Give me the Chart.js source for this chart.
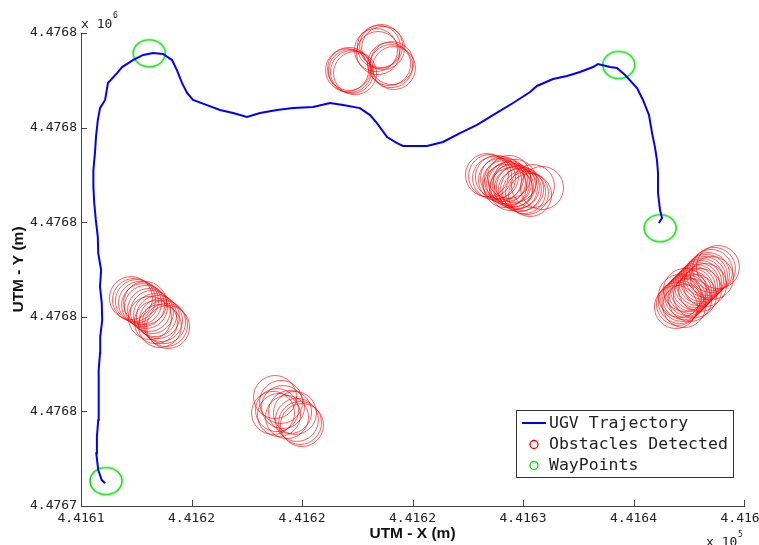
<!DOCTYPE html>
<html>
<head>
<meta charset="utf-8">
<title>UGV Trajectory</title>
<script src="https://cdn.jsdelivr.net/npm/chart.js@4.4.1/dist/chart.umd.min.js"></script>
<style>
    html, body { margin: 0; padding: 0; background: #fff; }
    #chartBox { width: 759px; height: 545px; }
</style>
</head>
<body>
<div id="chartBox"><canvas id="trajectoryChart" width="759" height="545"></canvas></div>
<script>
// UTM easting / northing (m)
const trajX = [
    441611.09, 441610.94, 441610.78, 441610.69, 441610.72, 441610.78, 441610.81, 441610.78, 441610.81, 441610.86,
    441610.87, 441610.96, 441610.94, 441610.86, 441610.91, 441610.78, 441610.76, 441610.67, 441610.60, 441610.56,
    441610.56, 441610.63, 441610.68, 441610.76, 441610.86, 441611.09, 441611.22, 441611.63, 441611.86, 441612.35,
    441612.81, 441613.26, 441613.71, 441614.12, 441614.34, 441614.57, 441614.80, 441615.07, 441615.70, 441616.29,
    441616.88, 441617.51, 441618.10, 441618.87, 441619.59, 441620.50, 441621.27, 441621.86, 441622.62, 441623.08,
    441623.39, 441623.85, 441624.30, 441624.57, 441625.66, 441626.38, 441627.15, 441627.92, 441628.64, 441629.55,
    441630.32, 441630.63, 441631.36, 441631.99, 441632.58, 441633.17, 441633.39, 441633.94, 441634.25, 441634.62,
    441635.16, 441635.43, 441635.70, 441635.84, 441635.97, 441636.06, 441636.11, 441636.11, 441636.20, 441636.29,
    441636.15
];
const trajY = [
    4476741.20, 4476741.37, 4476741.90, 4476742.79, 4476743.66, 4476744.55, 4476745.43, 4476746.31, 4476747.19, 4476748.07,
    4476748.95, 4476749.83, 4476750.71, 4476751.59, 4476752.47, 4476753.36, 4476754.23, 4476755.12, 4476756.00, 4476756.88,
    4476757.76, 4476758.64, 4476759.52, 4476760.40, 4476761.03, 4476761.46, 4476762.36, 4476762.88, 4476763.20, 4476763.57,
    4476763.84, 4476763.94, 4476763.89, 4476763.57, 4476763.04, 4476762.36, 4476761.83, 4476761.46, 4476761.19, 4476760.93,
    4476760.77, 4476760.56, 4476760.77, 4476760.93, 4476761.03, 4476761.09, 4476761.30, 4476761.19, 4476761.03, 4476760.66,
    4476760.24, 4476759.50, 4476759.18, 4476759.03, 4476759.03, 4476759.24, 4476759.71, 4476760.14, 4476760.66, 4476761.30,
    4476761.88, 4476762.20, 4476762.57, 4476762.73, 4476762.94, 4476763.20, 4476763.36, 4476763.20, 4476763.15, 4476762.78,
    4476762.09, 4476761.46, 4476760.66, 4476759.71, 4476758.97, 4476758.29, 4476757.60, 4476756.54, 4476755.64, 4476755.22,
    4476754.96
];

const obstacleX = [
    // top cluster
    441622.04, 441622.17, 441622.26, 441622.40, 441622.13, 441623.35, 441623.48, 441623.58, 441623.67, 441623.44,
    441623.94, 441624.03, 441624.16, 441624.07,
    // middle right cluster
    441628.37, 441628.51, 441628.69, 441628.82, 441628.96, 441629.05, 441629.14, 441629.23, 441629.32, 441629.41,
    441629.50, 441629.59, 441629.68, 441629.77, 441629.86, 441629.96, 441630.05, 441630.18, 441630.32, 441629.46,
    441629.19, 441630.45, 441630.86, 441629.64, 441629.37,
    // left cluster
    441612.26, 441612.40, 441612.53, 441612.67, 441612.81, 441612.94, 441613.08, 441613.21, 441613.35, 441613.48,
    441613.62, 441613.76, 441613.85, 441613.94, 441613.12, 441613.39, 441613.57, 441612.90,
    // bottom cluster
    441618.78, 441618.87, 441619.14, 441619.46, 441620.00, 441619.91, 441618.69, 441619.32, 441619.68, 441619.05,
    441619.77, 441618.96,
    // right cluster
    441636.92, 441637.01, 441637.10, 441637.20, 441637.29, 441637.38, 441637.47, 441637.56, 441637.65, 441637.74,
    441637.83, 441637.92, 441638.01, 441638.10, 441638.19, 441638.28, 441638.37, 441638.51, 441638.64, 441638.82,
    441637.56, 441637.78, 441638.01, 441637.33, 441638.24, 441638.55, 441637.10, 441637.29
];
const obstacleY = [
    4476763.04, 4476762.99, 4476762.94, 4476762.88, 4476763.10, 4476764.10, 4476764.26, 4476764.31, 4476764.21, 4476763.94,
    4476763.36, 4476763.25, 4476763.15, 4476763.41,
    4476757.49, 4476757.44, 4476757.33, 4476757.39, 4476757.23, 4476757.33, 4476757.12, 4476757.23, 4476757.02, 4476757.07,
    4476756.91, 4476756.96, 4476756.81, 4476756.86, 4476756.70, 4476756.75, 4476756.59, 4476756.54, 4476756.44, 4476756.75,
    4476756.91, 4476756.91, 4476756.81, 4476757.18, 4476757.39,
    4476750.99, 4476750.89, 4476750.83, 4476750.73, 4476750.62, 4476750.52, 4476750.36, 4476750.25, 4476750.09, 4476749.99,
    4476749.83, 4476749.72, 4476749.57, 4476749.46, 4476749.94, 4476749.72, 4476749.51, 4476750.73,
    4476745.76, 4476745.07, 4476745.23, 4476744.97, 4476744.28, 4476744.39, 4476744.92, 4476744.70, 4476744.92, 4476745.50,
    4476744.55, 4476744.81,
    4476750.52, 4476750.68, 4476750.78, 4476750.89, 4476750.99, 4476751.10, 4476751.20, 4476751.31, 4476751.42, 4476751.52,
    4476751.63, 4476751.73, 4476751.84, 4476751.94, 4476752.05, 4476752.16, 4476752.26, 4476752.42, 4476752.53, 4476752.63,
    4476750.89, 4476751.10, 4476751.42, 4476751.42, 4476751.68, 4476752.05, 4476751.10, 4476750.57
];

const waypointX = [441613.09, 441634.33, 441636.21, 441611.13];
const waypointY = [4476763.93, 4476763.31, 4476754.69, 4476741.32];

const xTickValues = [441610, 441615, 441620, 441625, 441630, 441635, 441640];
const xTickLabels = ['4.4161', '4.4162', '4.4162', '4.4162', '4.4163', '4.4164', '4.4164'];
const yTickValues = [4476740, 4476745, 4476750, 4476755, 4476760, 4476765];
const yTickLabels = ['4.4767', '4.4768', '4.4768', '4.4768', '4.4768', '4.4768'];

const seriesNames = ['UGV Trajectory', 'Obstacles Detected', 'WayPoints'];

const textColor = '#222';
const axisColor = '#444';
const monoFont = 'DejaVu Sans Mono';
const tickFont = { family: monoFont, size: 13 };
const titleFont = { family: 'Liberation Sans', size: 15.5, weight: 'bold' };

const toPoints = (xs, ys) => xs.map((x, i) => ({ x: x, y: ys[i] }));

function ellipseMarker(w, h, color, lineWidth) {
    const c = document.createElement('canvas');
    c.width = w + 4;
    c.height = h + 4;
    const g = c.getContext('2d');
    g.strokeStyle = color;
    g.lineWidth = lineWidth;
    g.beginPath();
    g.ellipse(c.width / 2, c.height / 2, w / 2, h / 2, 0, 0, Math.PI * 2);
    g.stroke();
    return c;
}

// inside tick marks, exponent notes and the boxed legend
const matlabDecor = {
    id: 'matlabDecor',
    afterDraw(chart) {
        const { ctx, chartArea: area, scales: { x, y } } = chart;
        ctx.save();
        ctx.strokeStyle = axisColor;
        ctx.lineWidth = 1;
        ctx.beginPath();
        x.ticks.forEach(t => {
            const px = Math.round(x.getPixelForValue(t.value)) + 0.5;
            ctx.moveTo(px, area.bottom);
            ctx.lineTo(px, area.bottom - 6);
        });
        y.ticks.forEach(t => {
            const py = Math.round(y.getPixelForValue(t.value)) + 0.5;
            ctx.moveTo(area.left, py);
            ctx.lineTo(area.left + 6, py);
        });
        ctx.stroke();

        ctx.fillStyle = textColor;
        ctx.textBaseline = 'alphabetic';
        ctx.textAlign = 'left';
        ctx.font = '13px "' + monoFont + '"';
        ctx.fillText('x 10', 81, 28);
        ctx.fillText('x 10', 706, 546);
        ctx.font = '8px "' + monoFont + '"';
        ctx.fillText('6', 113, 18);
        ctx.fillText('5', 738, 537);

        // legend
        const box = { left: 516, top: 410, width: 217, height: 67 };
        ctx.fillStyle = '#fff';
        ctx.fillRect(box.left, box.top, box.width, box.height);
        ctx.strokeStyle = '#333';
        ctx.strokeRect(box.left + 0.5, box.top + 0.5, box.width, box.height);

        const ds = chart.data.datasets;
        const rowY = [423, 444.5, 465.5];
        ctx.font = '16.5px "' + monoFont + '"';
        ctx.textBaseline = 'middle';
        ds.forEach((d, i) => {
            const cy = rowY[i];
            ctx.strokeStyle = d.legendColor;
            if (i === 0) {
                ctx.lineWidth = 2;
                ctx.beginPath();
                ctx.moveTo(522, cy);
                ctx.lineTo(546, cy);
                ctx.stroke();
            } else {
                ctx.lineWidth = 1.3;
                ctx.beginPath();
                ctx.arc(534, cy, 4, 0, Math.PI * 2);
                ctx.stroke();
            }
            ctx.fillStyle = textColor;
            ctx.fillText(d.label, 549, cy + 0.5);
        });
        ctx.restore();
    }
};

const waypointMarker = ellipseMarker(32, 27, 'rgb(0,230,0)', 1.6);

new Chart(document.getElementById('trajectoryChart'), {
    type: 'scatter',
    data: {
        datasets: [
            {
                label: seriesNames[0],
                data: toPoints(trajX, trajY),
                showLine: true,
                borderColor: 'rgb(0,0,255)',
                borderWidth: 2,
                pointRadius: 0,
                tension: 0,
                legendColor: 'rgb(0,0,255)',
                order: 0
            },
            {
                label: seriesNames[1],
                data: toPoints(obstacleX, obstacleY),
                pointStyle: 'circle',
                pointRadius: 21.5,
                pointBorderColor: 'rgba(255,0,0,0.8)',
                pointBackgroundColor: 'rgba(0,0,0,0)',
                pointBorderWidth: 0.8,
                legendColor: 'rgb(255,0,0)',
                clip: false,
                order: 2
            },
            {
                label: seriesNames[2],
                data: toPoints(waypointX, waypointY),
                pointStyle: waypointMarker,
                pointRadius: 16,
                legendColor: 'rgb(0,230,0)',
                clip: false,
                order: 1
            }
        ]
    },
    options: {
        responsive: false,
        animation: false,
        devicePixelRatio: 1,
        events: [],
        layout: { autoPadding: false, padding: { left: 0, right: 15, top: 33, bottom: 0 } },
        plugins: {
            legend: { display: false },
            tooltip: { enabled: false }
        },
        scales: {
            x: {
                type: 'linear',
                min: xTickValues[0],
                max: xTickValues[xTickValues.length - 1],
                afterBuildTicks: s => { s.ticks = xTickValues.map(v => ({ value: v })); },
                afterFit: s => { s.height = 39; s.paddingLeft = 0; s.paddingRight = 0; },
                grid: { display: false, drawTicks: false },
                border: { display: true, color: axisColor, width: 1 },
                ticks: {
                    callback: (v, i) => xTickLabels[i],
                    font: tickFont,
                    color: textColor,
                    padding: 5,
                    autoSkip: false,
                    maxRotation: 0
                },
                title: {
                    display: true,
                    text: 'UTM - X (m)',
                    font: titleFont,
                    color: '#111',
                    padding: { top: 0, bottom: 2 }
                }
            },
            y: {
                type: 'linear',
                min: yTickValues[0],
                max: yTickValues[yTickValues.length - 1],
                afterBuildTicks: s => { s.ticks = yTickValues.map(v => ({ value: v })); },
                afterFit: s => { s.width = 81; s.paddingTop = 0; s.paddingBottom = 0; },
                grid: { display: false, drawTicks: false },
                border: { display: true, color: axisColor, width: 1 },
                ticks: {
                    callback: (v, i) => yTickLabels[i],
                    font: tickFont,
                    color: textColor,
                    padding: 4,
                    autoSkip: false
                },
                title: {
                    display: true,
                    text: 'UTM - Y (m)',
                    font: titleFont,
                    color: '#111',
                    padding: { top: 9, bottom: 0 }
                }
            }
        }
    },
    plugins: [matlabDecor]
});
</script>
</body>
</html>
